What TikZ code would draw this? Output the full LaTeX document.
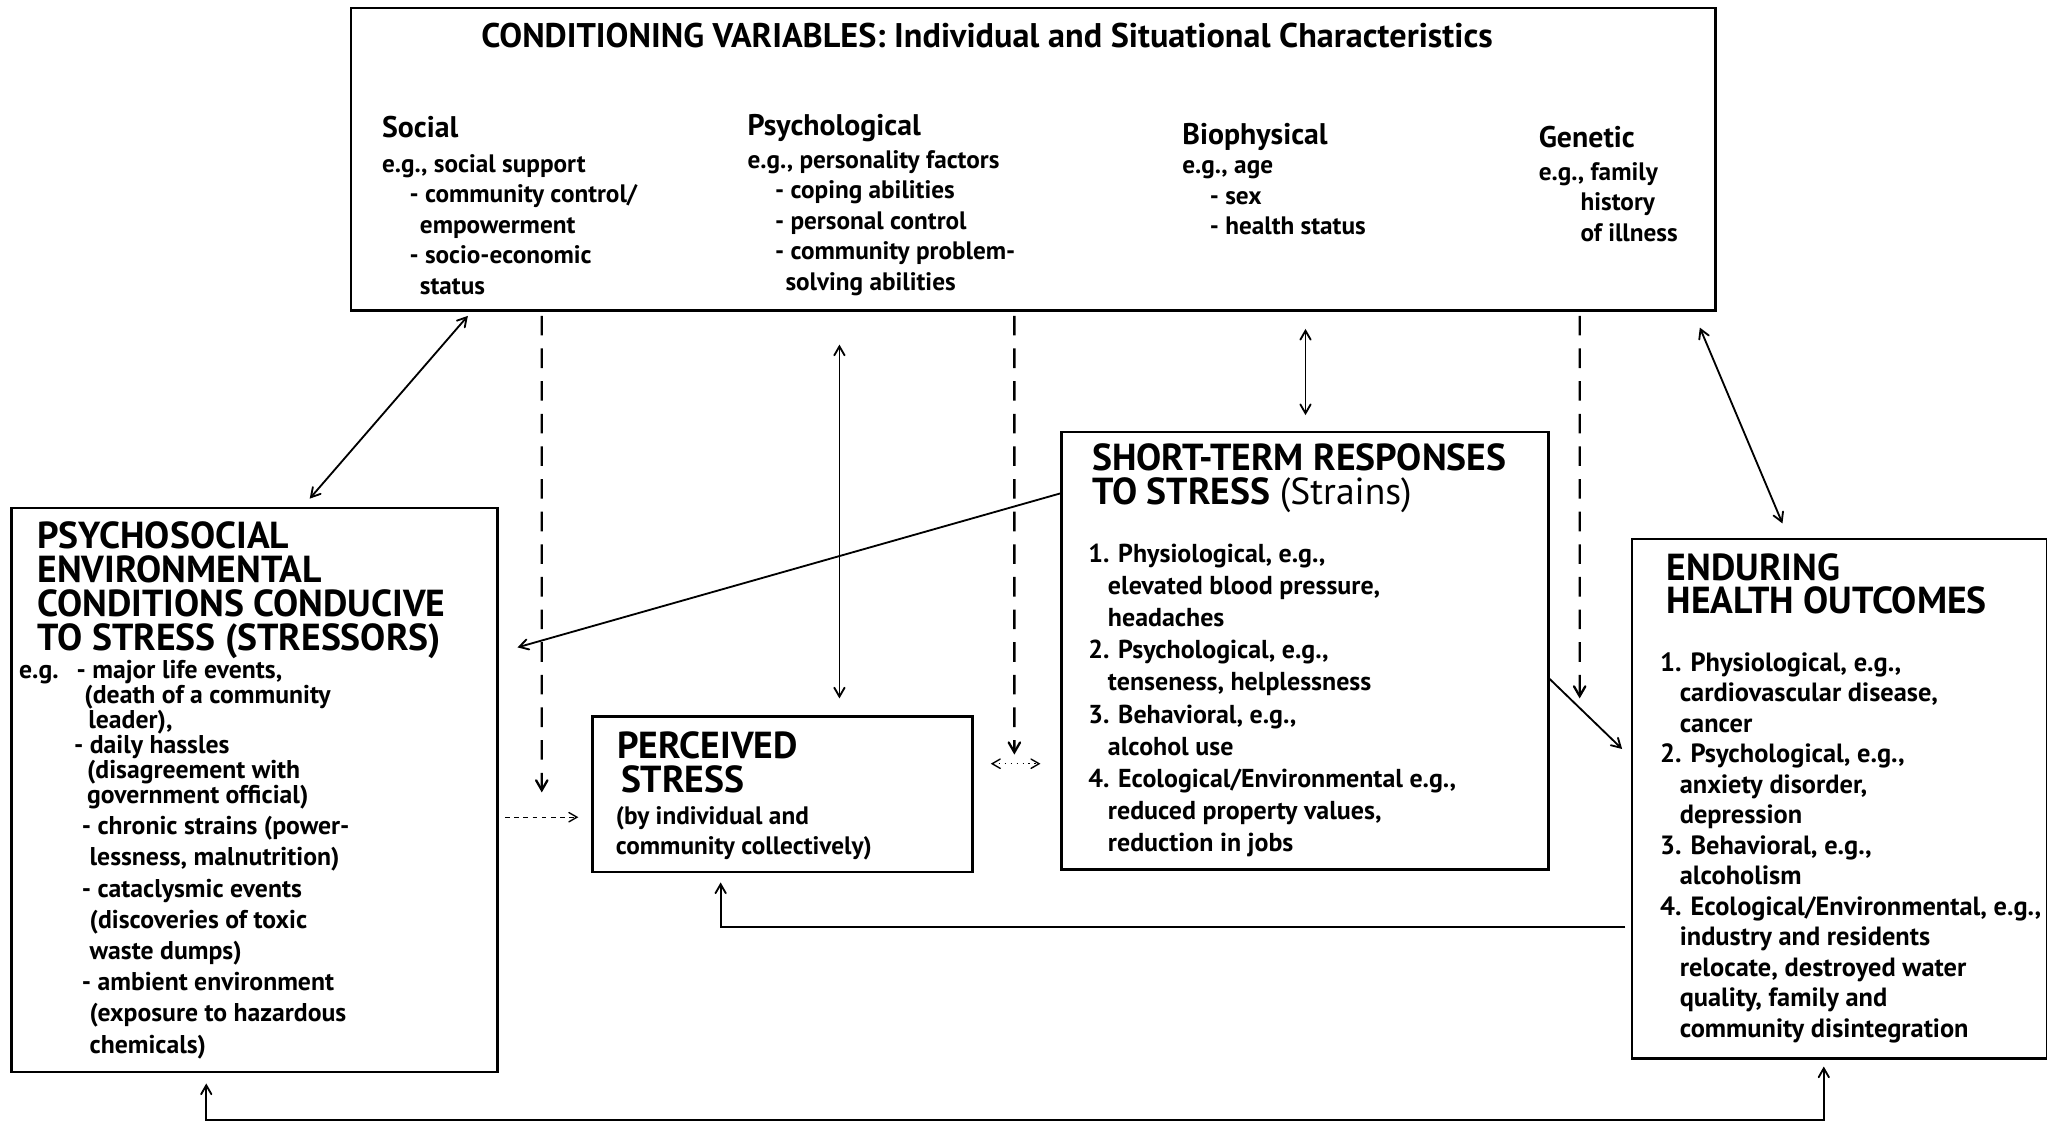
\documentclass[tikz,border=0pt]{standalone}
\usepackage{fontspec}
\setmainfont{PT Sans}
\usetikzlibrary{arrows,positioning}

\begin{document}
\begin{tikzpicture}[>=angle 60,line width=0.8pt,
        box/.style={draw,line width=1.1pt,rectangle,anchor=north west,inner sep=0pt},
        head/.style={anchor=north west,inner sep=0pt,align=left,font=\fontsize{16.4}{14.8}\selectfont\bfseries},
        colhead/.style={anchor=north west,inner sep=0pt,font=\fontsize{13}{15}\selectfont\bfseries},
        body/.style={anchor=north west,inner sep=0pt,align=left,font=\fontsize{11}{13.3}\selectfont\bfseries},
        dash line/.style={dash pattern=on 0.3cm off 0.2cm,line width=1pt}]
        \useasboundingbox (0,0) rectangle (31.36,-17.32);
        \node[box,minimum width=20.9cm,minimum height=4.64cm] (cond) at (5.36,-0.10) {};
        \node[box,minimum width=7.44cm,minimum height=8.64cm] (psy) at (0.16,-7.76) {};
        \node[box,minimum width=5.82cm,minimum height=2.38cm] (perc) at (9.06,-10.96) {};
        \node[box,minimum width=7.46cm,minimum height=6.70cm] (short) at (16.24,-6.60) {};
        \node[box,minimum width=6.36cm,minimum height=7.96cm] (endur) at (24.98,-8.24) {};
        \node[anchor=west,inner sep=0pt,font=\fontsize{14.9}{16}\selectfont\bfseries] (condT) at ([shift={(2,-0.44)}]cond.north west) {CONDITIONING VARIABLES: Individual and Situational Characteristics};
        \node[colhead,below right=1.66cm and 0.48cm of cond.north west] (socH) {Social};
        \node[colhead,below right=1.64cm and 6.08cm of cond.north west] (psyH) {Psychological};
        \node[colhead,below right=1.78cm and 12.74cm of cond.north west] (bioH) {Biophysical};
        \node[colhead,below right=1.82cm and 18.2cm of cond.north west] (genH) {Genetic};
        \node[body,below right=2.25cm and 0.48cm of cond.north west] (socB) {e.g., social support\\ \hspace*{0.42cm}- community control/\\ \hspace*{0.58cm}empowerment\\ \hspace*{0.42cm}- socio-economic\\ \hspace*{0.58cm}status};
        \node[body,below right=2.19cm and 6.08cm of cond.north west] (psyB) {e.g., personality factors\\ \hspace*{0.42cm}- coping abilities\\ \hspace*{0.42cm}- personal control\\ \hspace*{0.42cm}- community problem-\\ \hspace*{0.58cm}solving abilities};
        \node[body,below right=2.35cm and 12.74cm of cond.north west] (bioB) {e.g., age\\ \hspace*{0.42cm}- sex\\ \hspace*{0.42cm}- health status};
        \node[body,below right=2.37cm and 18.2cm of cond.north west] (genB) {e.g., family\\ \hspace*{0.64cm}history\\ \hspace*{0.64cm}of illness};
        \node[head,below right=0.22cm and 0.4cm of psy.north west] (psyT) {PSYCHOSOCIAL\\ ENVIRONMENTAL\\ CONDITIONS CONDUCIVE\\ TO STRESS (STRESSORS)};
        \node[body,font=\fontsize{11.2}{10.9}\selectfont\bfseries,below right=2.34cm and 0.12cm of psy.north west] (psyB)
        {\makebox[0.88cm][l]{e.g.}- major life events,\\ \hspace*{1.0cm}(death of a community\\ \hspace*{1.06cm}leader),\\ \hspace*{0.84cm}- daily hassles\\ \hspace*{1.04cm}(disagreement with\\ \hspace*{1.04cm}government official)\\[2.7pt]
        \hspace*{0.96cm}- chronic strains (power-\\[2.7pt] \hspace*{1.08cm}lessness, malnutrition)\\[2.7pt] \hspace*{0.96cm}- cataclysmic events\\[2.7pt] \hspace*{1.08cm}(discoveries of toxic\\[2.7pt] \hspace*{1.08cm}waste dumps)\\[2.7pt]
        \hspace*{0.96cm}- ambient environment\\[2.7pt] \hspace*{1.08cm}(exposure to hazardous\\[2.7pt] \hspace*{1.08cm}chemicals)};
        \node[head,below right=0.24cm and 0.38cm of perc.north west] (percT) {PERCEIVED\\ \hspace*{0.06cm}STRESS};
        \node[body,below right=1.38cm and 0.36cm of perc.north west] (percB) {(by individual and\\ community collectively)};
        \node[head,below right=0.18cm and 0.48cm of short.north west] (shortT) {SHORT-TERM RESPONSES\\ TO STRESS {\mdseries (Strains)}};
        \node[body,font=\fontsize{11.3}{14}\selectfont\bfseries,below right=1.72cm and 0.42cm of short.north west] (shortB)
        {1. Physiological, e.g.,\\ \hspace*{0.3cm}elevated blood pressure,\\ \hspace*{0.3cm}headaches\\ 2. Psychological, e.g.,\\ \hspace*{0.3cm}tenseness, helplessness\\ 3. Behavioral, e.g.,\\ \hspace*{0.3cm}alcohol use\\ 4. Ecological/Environmental e.g.,\\ \hspace*{0.3cm}reduced property values,\\ \hspace*{0.3cm}reduction in jobs};
        \node[head,below right=0.22cm and 0.54cm of endur.north west] (endurT) {ENDURING\\ HEALTH OUTCOMES};
        \node[body,font=\fontsize{11.5}{13.3}\selectfont\bfseries,below right=1.74cm and 0.44cm of endur.north west] (endurB)
        {1. Physiological, e.g.,\\ \hspace*{0.3cm}cardiovascular disease,\\ \hspace*{0.3cm}cancer\\ 2. Psychological, e.g.,\\ \hspace*{0.3cm}anxiety disorder,\\ \hspace*{0.3cm}depression\\ 3. Behavioral, e.g.,\\ \hspace*{0.3cm}alcoholism\\ 4. Ecological/Environmental, e.g.,\\ \hspace*{0.3cm}industry and residents\\ \hspace*{0.3cm}relocate, destroyed water\\ \hspace*{0.3cm}quality, family and\\ \hspace*{0.3cm}community disintegration};
        \coordinate (dA) at (8.30,-12.14);
        \coordinate (dB) at (15.54,-11.56);
        \coordinate (dC) at (24.2,-10.7);
        \coordinate (pIn) at ([yshift=-0.35cm]perc.west);
        \coordinate (pm) at (15.54,-11.70);
        \coordinate (pv) at ([xshift=3.8cm]perc.north west);
        \coordinate (sv) at ([xshift=3.76cm]short.north west);
        \coordinate (loop) at (15.68,-17.16);
        \draw[<->,shorten <=0.08cm,shorten >=0.16cm] ([xshift=1.86cm]cond.south west) -- ([xshift=4.48cm]psy.north west);
        \draw[->,dash line,shorten <=0.06cm] ([xshift=2.94cm]cond.south west) -- (dA);
        \draw[->,dash pattern=on 2pt off 2pt,line width=0.6pt,shorten <=0.1cm,shorten >=0.2cm] (psy.east |- pIn) -- (pIn);
        \draw[<->,shorten <=0.5cm,shorten >=0.26cm] (pv |- cond.south) -- (pv);
        \draw[->,dash line,shorten <=0.06cm] ([xshift=10.18cm]cond.south west) -- (dB);
        \draw[<->,dotted,line width=0.6pt,shorten <=0.26cm,shorten >=0.3cm] (perc.east |- pm) -- (short.west |- pm);
        \draw[<->,shorten <=0.26cm,shorten >=0.24cm] (sv |- cond.south) -- (sv);
        \draw[->,dash line,shorten <=0.06cm] ([xshift=18.84cm]cond.south west) -- (dC);
        \draw[<->,shorten <=0.26cm,shorten >=0.24cm] ([xshift=20.58cm]cond.south west) -- ([xshift=2.42cm]endur.north west);
        \draw[->,shorten >=0.3cm] ([yshift=-0.96cm]short.north west) -- ([yshift=-2.24cm]psy.north east);
        \draw[->,shorten >=0.18cm] ([yshift=-3.8cm]short.north east) -- ([yshift=-3.36cm]endur.north west);
        \draw[->,shorten <=0.08cm,shorten >=0.14cm] ([yshift=-5.96cm]endur.north west) -| ([xshift=1.98cm]perc.south west);
        \draw[<->,shorten <=0.16cm,shorten >=0.1cm] ([xshift=3cm]psy.south west) |- (loop) -| ([xshift=2.96cm]endur.south west);
\end{tikzpicture}
\end{document}
